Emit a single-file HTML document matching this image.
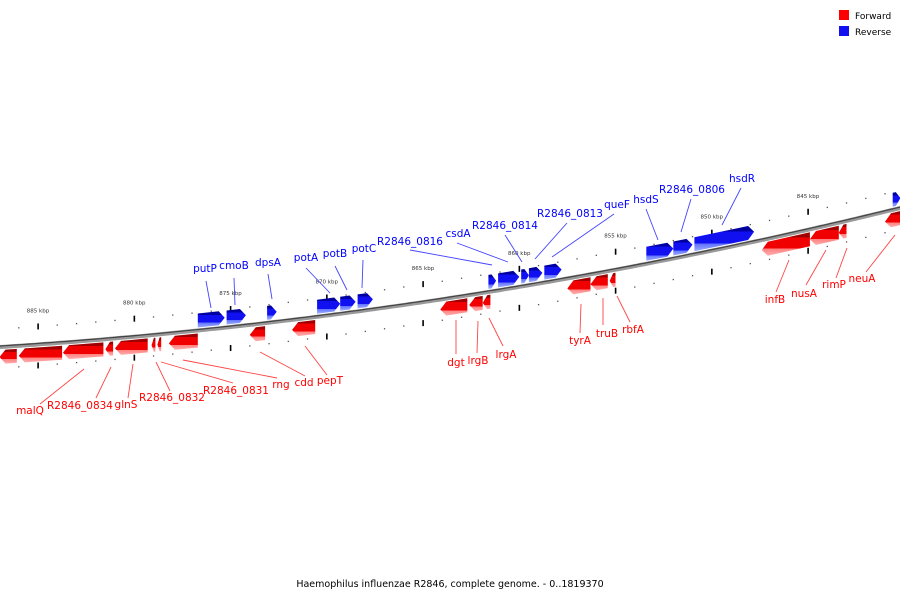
<!DOCTYPE html>
<html><head><meta charset="utf-8"><style>
body{margin:0;background:#fff}
svg{display:block;font-family:"DejaVu Sans","Liberation Sans",sans-serif}
</style></head><body>
<svg id="map" width="900" height="600" viewBox="0 0 900 600">
<defs>
<linearGradient id="gr" x1="0" y1="0" x2="0" y2="1"><stop offset="0" stop-color="#a00000"/><stop offset="0.22" stop-color="#a00000"/><stop offset="0.22" stop-color="#f00000"/><stop offset="0.7" stop-color="#f00000"/><stop offset="0.7" stop-color="#ff8080"/><stop offset="1" stop-color="#ffb0b0"/></linearGradient>
<linearGradient id="gb" x1="0" y1="0" x2="0" y2="1"><stop offset="0" stop-color="#0000a0"/><stop offset="0.22" stop-color="#0000a0"/><stop offset="0.22" stop-color="#1010f0"/><stop offset="0.7" stop-color="#1010f0"/><stop offset="0.7" stop-color="#6070ff"/><stop offset="1" stop-color="#a0b0ff"/></linearGradient>
</defs>
<g>
<rect x="839" y="10" width="10" height="10" fill="#f00"/>
<text x="855" y="19" font-size="9" fill="#000">Forward</text>
<rect x="839" y="26" width="10" height="10" fill="#1010f0"/>
<text x="855" y="35" font-size="9" fill="#000">Reverse</text>
</g>
<text x="450" y="587" font-size="9.5" text-anchor="middle" fill="#000">Haemophilus influenzae R2846, complete genome. - 0..1819370</text>
<g id="track"></g>
</svg>
<script>
const tickKbp=[885,880,875,870,865,860,855,850,845];
const geneNames=["R2846_0836","malQ","R2846_0834","R2846_0833","glnS","R2846_0832","R2846_0831b","R2846_0831","rng","cdd","pepT","dgt","lrgB","lrgA","tyrA","truB","rbfA","infB","nusA","rimP","neuA","putP","cmoB","dpsA","potA","potB","potC","R2846_0816","csdA","R2846_0814","R2846_0813","queF","hsdS","R2846_0806","hsdR","R2846_0801"];
const geneStart=[887.0,886.0,883.7,881.5,881.0,879.1,878.8,878.2,874.0,871.8,864.1,862.6,861.9,857.5,856.3,855.3,847.4,844.9,843.4,841.0,876.7,875.2,873.1,870.5,869.3,868.4,861.6,861.1,859.9,859.5,858.7,853.4,852.0,850.9,840.6];
const geneEnd=[886.1,883.75,881.6,881.1,879.3,878.9,878.6,876.7,873.2,870.6,862.7,861.9,861.5,856.3,855.4,855.0,844.9,843.4,843.0,840.2,875.3,874.2,872.6,869.3,868.5,867.6,861.2,860.0,859.5,858.8,857.8,852.0,851.0,847.8,840.2];
const geneStrand=["F","F","F","F","F","F","F","F","F","F","F","F","F","F","F","F","F","F","F","F","R","R","R","R","R","R","R","R","R","R","R","R","R","R","R"];
// labels: [name, textX, textY, lineX1, lineY1, lineX2, lineY2, strand]
const labels=[
["malQ",30,414,40,404,84,369,"F"],["R2846_0834",80,409,96,398,111,367,"F"],["glnS",126,408,128,398,133,364,"F"],
["R2846_0832",172,401,170,391,156,362,"F"],["R2846_0831",236,394,233,383,161,362,"F"],["rng",281,388,277,378,183,360,"F"],
["cdd",304,386,305,376,260,352,"F"],["pepT",330,384,327,375,305,346,"F"],["dgt",456,366,456,354,456,320,"F"],
["lrgB",478,364,477,353,478,321,"F"],["lrgA",506,358,503,346,489,318,"F"],["tyrA",580,344,580,333,581,304,"F"],
["truB",607,337,603,325,603,298,"F"],["rbfA",633,333,630,322,617,296,"F"],["infB",775,303,776,292,789,260,"F"],
["nusA",804,297,806,285,826,250,"F"],["rimP",834,288,836,278,847,248,"F"],["neuA",862,282,866,272,895,235,"F"],
["putP",205,272,206,281,211,308,"R"],["cmoB",234,269,234,278,235,305,"R"],["dpsA",268,266,268,274,272,299,"R"],
["potA",306,261,306,268,330,293,"R"],["potB",335,257,335,266,347,290,"R"],["potC",364,252,363,260,362,288,"R"],
["R2846_0816",410,245,410,250,492,265,"R"],["csdA",458,237,457,243,508,262,"R"],["R2846_0814",505,229,505,235,522,262,"R"],
["R2846_0813",570,217,567,223,535,259,"R"],["queF",617,208,614,214,552,257,"R"],["hsdS",646,203,646,209,658,240,"R"],
["R2846_0806",692,193,691,199,681,232,"R"],["hsdR",742,182,741,188,722,225,"R"]];
const NS="http://www.w3.org/2000/svg";
const g=document.getElementById('track');
function X(k){return 38+(885-k)*19.25;}
function Y(x){return 347-0.0633*x-1.012e-4*x*x;}
function mk(t,a){const e=document.createElementNS(NS,t);for(const k in a)e.setAttribute(k,a[k]);g.appendChild(e);return e;}
// backbone
let pts=[];for(let x=-5;x<=905;x+=5)pts.push(x+","+Y(x).toFixed(1));
let bb=mk('polyline',{points:pts.join(' '),fill:'none',stroke:'#999','stroke-width':4});


let bb2=mk('polyline',{points:pts.map(p=>{const[a,b]=p.split(',');return a+','+(+b-1)}).join(' '),fill:'none',stroke:'#444','stroke-width':1.2});


// ticks
for(let k=887;k>=840;k--){const x=X(k);if(x<0||x>900)continue;const y=Y(x);
 const major=k%5===0;
 for(const off of [-18,21]){
  if(major){const t=mk('rect',{x:x-0.7,y:y+off-3,width:1.6,height:6,fill:'#000'});}
  else{const t=mk('rect',{x:x-0.6,y:y+off-0.6,width:1.3,height:1.3,fill:'#555'});}
 }}
tickKbp.forEach(k=>{const x=X(k);const t=mk('text',{x:x,y:Y(x)-32,'font-size':5.5,'text-anchor':'middle',fill:'#333'});t.textContent=k+' kbp';
 
 });
// genes
geneStart.forEach((s,i)=>{let a=X(s),b=X(geneEnd[i]);const x1=Math.min(a,b),x2=Math.max(a,b);const f=geneStrand[i]==="F";
 const top=f?3:-17,bot=f?17:-3;const h=Math.min(6,(x2-x1)*0.6);let p;
 const P=(x,o)=>x.toFixed(1)+","+(Y(x)+o).toFixed(1);const mid=(top+bot)/2;
 if(f){p=[P(x1,mid),P(x1+h,top),P(x2,top),P(x2,bot),P(x1+h,bot)];}
 else{p=[P(x1,top),P(x2-h,top),P(x2,mid),P(x2-h,bot),P(x1,bot)];}
 const e=mk('polygon',{points:p.join(' '),fill:f?'url(#gr)':'url(#gb)'});
 
 });
// labels
labels.forEach(l=>{const c=l[7]==="F"?'#f00':'#00f';const lc=l[7]==="F"?'#f44':'#44f';
 const ln=mk('line',{x1:l[3],y1:l[4],x2:l[5],y2:l[6],stroke:lc,'stroke-width':0.9});
 
 
 const t=mk('text',{x:l[1],y:l[2],'font-size':10.5,'text-anchor':'middle',fill:c});t.textContent=l[0];
 
 });
</script>
</body></html>
